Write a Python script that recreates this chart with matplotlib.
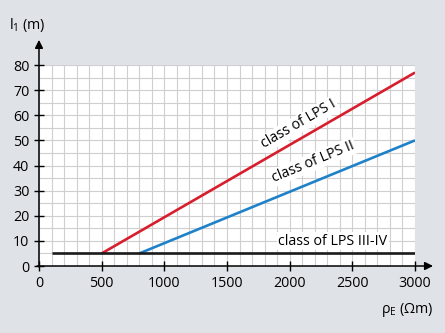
import numpy as np
import matplotlib
matplotlib.use("Agg")
import matplotlib.pyplot as plt

plt.rcParams["font.family"] = ["Open Sans", "DejaVu Sans"]
plt.rcParams["mathtext.fontset"] = "custom"
plt.rcParams["mathtext.rm"] = "Open Sans"

# ── Data: required length l1 vs soil resistivity per LPS class ────────────
rho_class1 = [500, 3000]
l1_class1 = [5, 77]
rho_class2 = [800, 3000]
l1_class2 = [5, 50]
rho_class34 = [100, 3000]
l1_class34 = [5, 5]

x_ticks = [0, 500, 1000, 1500, 2000, 2500, 3000]
y_ticks = [0, 10, 20, 30, 40, 50, 60, 70, 80]

BG = "#dfe3e7"
RED = "#d81e2c"
BLUE = "#1f82c8"
FS = 10.3

fig = plt.figure(figsize=(4.45, 3.33), dpi=100)
fig.patch.set_facecolor(BG)
ax = fig.add_axes([0.0876, 0.2012, 0.845, 0.6036])
ax.set_facecolor("white")

ax.set_xlim(0, 3000)
ax.set_ylim(0, 80)
ax.set_xticks(x_ticks)
ax.set_yticks(y_ticks)
ax.set_xticks(np.arange(0, 3001, 100), minor=True)
ax.set_yticks(np.arange(0, 81, 5), minor=True)
ax.grid(which="both", color="#cfcfcf", linewidth=0.8, zorder=0)
ax.tick_params(which="minor", length=0)
ax.tick_params(which="major", direction="inout", length=7, width=1,
               labelsize=FS, colors="black", pad=3.5)
for s in ax.spines.values():
    s.set_visible(False)

# axes with arrowheads
ax.annotate("", xy=(0, 1.125), xytext=(0, -0.005), xycoords="axes fraction",
            arrowprops=dict(arrowstyle="-|>", color="black", lw=1.1,
                            mutation_scale=12, shrinkA=0, shrinkB=0),
            annotation_clip=False)
ax.annotate("", xy=(1.048, 0), xytext=(-0.005, 0), xycoords="axes fraction",
            arrowprops=dict(arrowstyle="-|>", color="black", lw=1.1,
                            mutation_scale=12, shrinkA=0, shrinkB=0),
            annotation_clip=False)

ax.plot(rho_class1, l1_class1, color=RED, lw=1.9, zorder=3, solid_capstyle="butt")
ax.plot(rho_class2, l1_class2, color=BLUE, lw=1.9, zorder=3, solid_capstyle="butt")
ax.plot(rho_class34, l1_class34, color="#1a1a1a", lw=1.9, zorder=4, solid_capstyle="butt")

box = dict(facecolor="white", edgecolor="none", pad=1.0)
ax.text(2075, 56.5, "class of LPS I", rotation=30, ha="center", va="center",
        fontsize=FS, bbox=box, zorder=5, rotation_mode="anchor")
ax.text(2190, 41.5, "class of LPS II", rotation=22.5, ha="center", va="center",
        fontsize=FS, bbox=box, zorder=5, rotation_mode="anchor")
ax.text(2345, 9.8, "class of LPS III-IV", ha="center", va="center",
        fontsize=FS, bbox=box, zorder=5)

fig.text(0.02, 0.925, r"l$_\mathregular{1}$ (m)", fontsize=FS, ha="left", va="center")
fig.text(0.975, 0.068, r"ρ$_\mathregular{E}$ (Ωm)", fontsize=FS, ha="right", va="center")

fig.savefig("out.png", dpi=100, facecolor=fig.get_facecolor())
